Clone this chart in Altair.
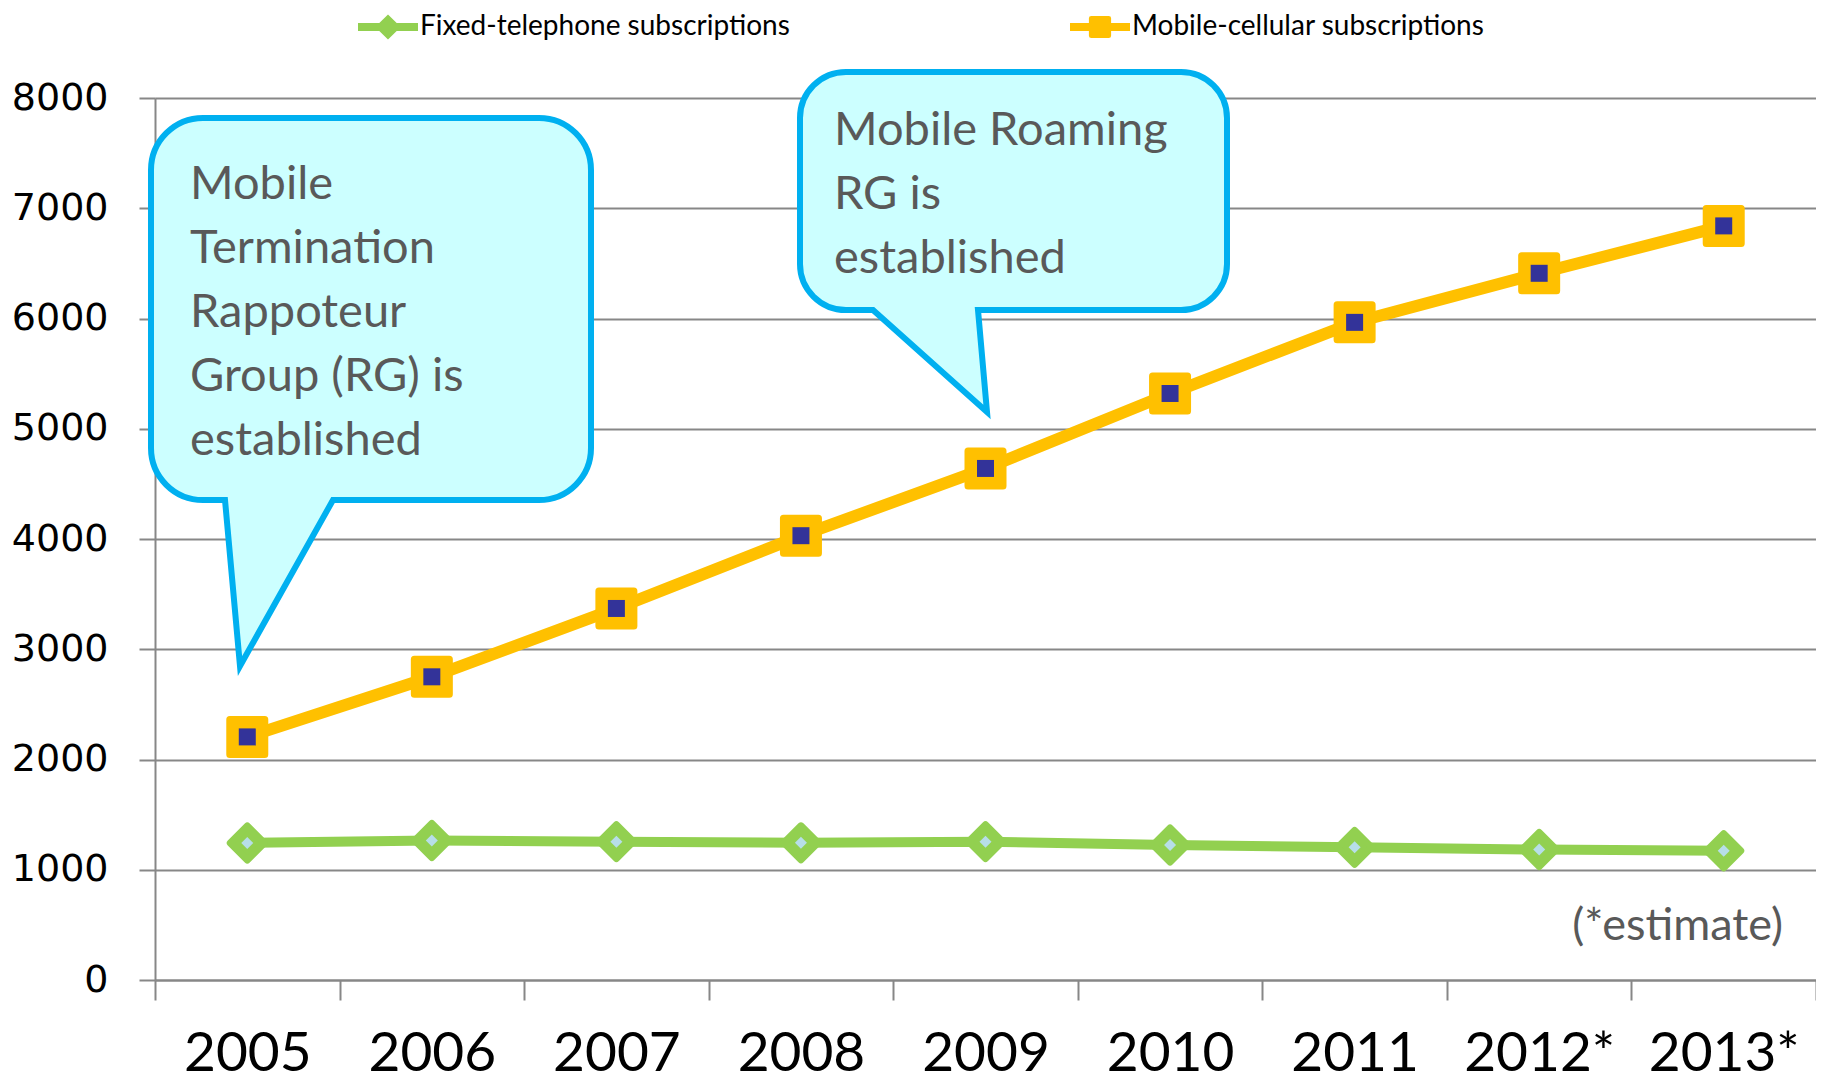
import altair as alt
import pandas as pd

years = ["2005", "2006", "2007", "2008", "2009", "2010", "2011", "2012*", "2013*"]
mobile = [2205, 2750, 3370, 4030, 4640, 5320, 5965, 6410, 6840]
fixed = [1243, 1265, 1255, 1244, 1255, 1225, 1203, 1183, 1172]
series_names = ["Fixed-telephone subscriptions", "Mobile-cellular subscriptions"]
callout1_text = "Mobile\nTermination\nRappoteur\nGroup (RG) is\nestablished"
callout2_text = "Mobile Roaming\nRG is\nestablished"
note_text = "(*estimate)"

YELLOW = "#FFC000"
NAVY = "#333399"
GREEN = "#92D050"
LIGHTBLUE = "#B7DEE8"
CYAN = "#CCFFFF"
BLUE = "#00B0F0"
GREY_TXT = "#595959"
GRID = "#878787"

W, H = 1661, 882

df_m = pd.DataFrame({"year": years, "value": mobile})
df_f = pd.DataFrame({"year": years, "value": fixed})

x_enc = alt.X("year:N", sort=years, title=None,
              scale=alt.Scale(paddingInner=0, paddingOuter=0),
              axis=alt.Axis(labelAngle=0, tickBand="extent", labelFont="Lato",
                            labelFontSize=55, labelColor="black", tickSize=20,
                            tickColor=GRID, tickWidth=2, labelPadding=27,
                            domainColor=GRID, domainWidth=2, grid=False))
y_enc = alt.Y("value:Q", title=None,
              scale=alt.Scale(domain=[0, 8000], nice=False),
              axis=alt.Axis(values=list(range(0, 8001, 1000)), format="d",
                            labelFont="DejaVu Sans",
                            labelFontSize=38, labelColor="black", tickSize=16,
                            tickColor=GRID, tickWidth=2, labelPadding=31,
                            gridColor=GRID, gridWidth=2, domainColor=GRID, domainWidth=2))


def bubble(L, R, T, B, r, x1, x2, tx, ty):
    k = 0.5523 * r
    return (f"M{L + r},{T} L{R - r},{T} C{R - r + k},{T} {R},{T + r - k} {R},{T + r} "
            f"L{R},{B - r} C{R},{B - r + k} {R - r + k},{B} {R - r},{B} "
            f"L{x2},{B} L{tx},{ty} L{x1},{B} "
            f"L{L + r},{B} C{L + r - k},{B} {L},{B - r + k} {L},{B - r} "
            f"L{L},{T + r} C{L},{T + r - k} {L + r - k},{T} {L + r},{T} Z")


one = pd.DataFrame({"k": [0]})

c1 = alt.Chart(one).mark_point(
    shape=bubble(-4, 436, 20, 402, 52, 70, 178, 85, 568), size=4, filled=True,
    fill=CYAN, stroke=BLUE, strokeWidth=6, opacity=1, strokeJoin="miter"
).encode(x=alt.value(0), y=alt.value(0))
c2 = alt.Chart(one).mark_point(
    shape=bubble(645, 1072, -26, 212, 46, 718, 823, 832, 314), size=4, filled=True,
    fill=CYAN, stroke=BLUE, strokeWidth=6, opacity=1, strokeJoin="miter"
).encode(x=alt.value(0), y=alt.value(0))

t1 = alt.Chart(one).mark_text(
    text=callout1_text, lineBreak="\n", align="left", baseline="top", font="Lato",
    fontSize=47, lineHeight=64, color=GREY_TXT
).encode(x=alt.value(35), y=alt.value(64))
t2 = alt.Chart(one).mark_text(
    text=callout2_text, lineBreak="\n", align="left", baseline="top", font="Lato",
    fontSize=47, lineHeight=64, color=GREY_TXT
).encode(x=alt.value(679), y=alt.value(10))
t3 = alt.Chart(one).mark_text(
    text=note_text, align="right", baseline="alphabetic", font="Lato",
    fontSize=45, color=GREY_TXT
).encode(x=alt.value(1628), y=alt.value(842))

line_m = alt.Chart(df_m).mark_line(color=YELLOW, strokeWidth=12).encode(x=x_enc, y=y_enc)
line_f = alt.Chart(df_f).mark_line(color=GREEN, strokeWidth=10).encode(x=x_enc, y=y_enc)

pt_m_out = alt.Chart(df_m).mark_point(
    shape="square", size=1225, filled=True, fill=YELLOW, stroke=YELLOW,
    strokeWidth=7, strokeJoin="round", opacity=1).encode(x=x_enc, y=y_enc)
pt_m_in = alt.Chart(df_m).mark_point(
    shape="square", size=289, filled=True, fill=NAVY, opacity=1).encode(x=x_enc, y=y_enc)
pt_f_out = alt.Chart(df_f).mark_point(
    shape="diamond", size=1156, filled=True, fill=GREEN, stroke=GREEN,
    strokeWidth=7, strokeJoin="round", opacity=1).encode(x=x_enc, y=y_enc)
pt_f_in = alt.Chart(df_f).mark_point(
    shape="diamond", size=144, filled=True, fill=LIGHTBLUE, opacity=1).encode(x=x_enc, y=y_enc)

leg_fixed = ("M-1,-0.13 L-0.29,-0.13 L0,-0.42 L0.29,-0.13 L1,-0.13 L1,0.13 "
             "L0.29,0.13 L0,0.42 L-0.29,0.13 L-1,0.13 Z")
leg_mobile = ("M-1,-0.13 L-0.37,-0.13 L-0.37,-0.29 Q-0.37,-0.37 -0.29,-0.37 L0.29,-0.37 "
              "Q0.37,-0.37 0.37,-0.29 L0.37,-0.13 L1,-0.13 L1,0.13 L0.37,0.13 L0.37,0.29 "
              "Q0.37,0.37 0.29,0.37 L-0.29,0.37 Q-0.37,0.37 -0.37,0.29 L-0.37,0.13 "
              "L-1,0.13 Z")
legend_props = dict(orient="none", legendX=203, legendY=-101,
                    direction="horizontal", title=None,
                    symbolSize=3600, symbolStrokeWidth=0, symbolOpacity=1,
                    labelFont="Lato", labelFontSize=28, labelColor="black",
                    labelLimit=1000, labelOffset=2, columnPadding=280, padding=0)
df_leg = pd.DataFrame({"series": series_names, "year": [years[0], years[0]], "value": [0, 0]})
legend_layer = alt.Chart(df_leg).mark_point(filled=True, opacity=1).encode(
    x=x_enc, y=y_enc,
    color=alt.Color("series:N", scale=alt.Scale(domain=series_names, range=[GREEN, YELLOW]),
                    legend=alt.Legend(**legend_props)),
    shape=alt.Shape("series:N", scale=alt.Scale(domain=series_names, range=[leg_fixed, leg_mobile]),
                    legend=alt.Legend(**legend_props)),
).transform_filter("false")

chart = alt.layer(
    legend_layer, c1, c2, line_f, line_m, pt_f_out, pt_f_in, pt_m_out, pt_m_in,
    t1, t2, t3
).properties(
    width=W, height=H,
    autosize=alt.AutoSizeParams(type="none"),
    padding={"left": 147, "top": 90, "right": 0, "bottom": 104},
).configure_view(stroke=None).configure(background="white")

chart.save("out.html", embed_options={"renderer": "svg", "actions": False})
